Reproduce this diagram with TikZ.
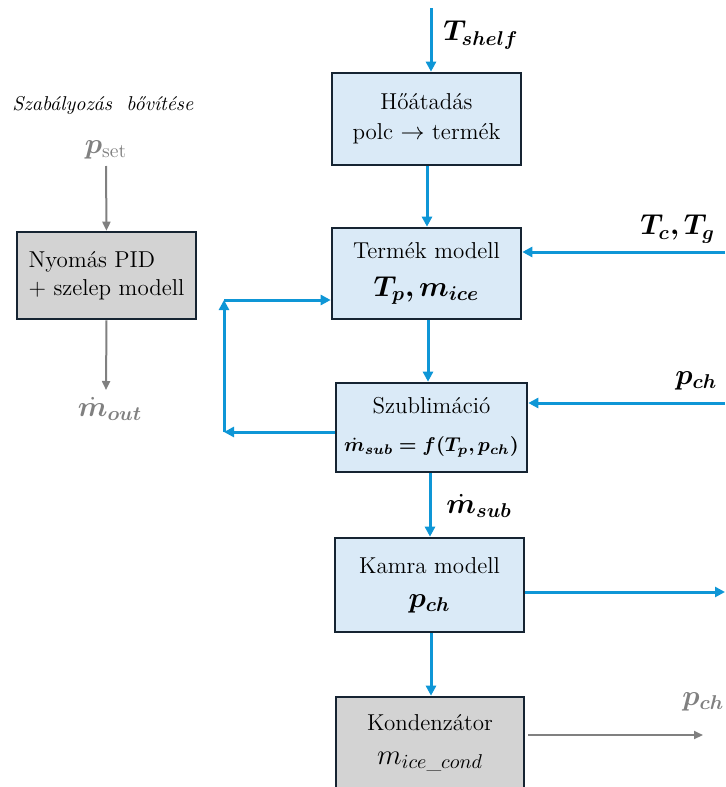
\documentclass[tikz,border=0pt]{standalone}
\usepackage{amsmath,bm}
\usepackage{fontspec}
\usetikzlibrary{arrows.meta}
\definecolor{flowblue}{RGB}{14,150,214}
\definecolor{boxblue}{RGB}{218,234,247}
\definecolor{boxgray}{RGB}{211,211,211}
\definecolor{boxedge}{RGB}{22,36,50}
\definecolor{sidegray}{RGB}{128,128,128}
\newcommand{\mathsz}{\fontsize{14}{16}\selectfont}
\newcommand{\txtsz}{\fontsize{11.5}{14}\selectfont}
\begin{document}
\begin{tikzpicture}[x=0.5pt,y=-0.5pt,
  blk/.style={draw=boxedge, line width=1.3pt, fill=boxblue, minimum width=94.5pt,
    minimum height=46pt, inner sep=0pt, align=center, font=\txtsz},
  gblk/.style={blk, fill=boxgray},
  flow/.style={draw=flowblue, line width=1.5pt, -{Triangle[length=5pt,width=5pt]}},
  gflow/.style={draw=sidegray, line width=1pt, -{Triangle[length=4.5pt,width=4pt]}},
  lbl/.style={inner sep=0pt, font=\mathsz}]
\useasboundingbox (0,0) rectangle (725,787);

% blocks
\node[blk, minimum height=46pt] (hoa) at (426.5,119) {Hőátadás\\[1pt]polc $\rightarrow$ termék};
\node[blk, minimum height=45.5pt] (termek) at (426.5,273.5) {Termék modell\\[5pt]{\mathsz$\bm{T_p, m_{ice}}$}};
\node[blk, minimum width=95.5pt, minimum height=44.5pt] (szub) at (431.5,427.5) {Szublimáció\\[5pt]{\fontsize{10}{12}\selectfont$\bm{\dot{m}_{sub} = f(T_p, p_{ch})}$}};
\node[blk, minimum height=47pt] (kamra) at (429.5,585) {Kamra modell\\[3pt]{\mathsz$\bm{p_{ch}}$}};
\node[gblk, minimum width=94pt, minimum height=46pt] (kond) at (430,743) {Kondenzátor\\[3pt]{\mathsz$m_{ice\_cond}$}};
\node[gblk, minimum width=89.5pt, minimum height=43.5pt] (pid) at (106.5,275.5) {\begin{tabular}{@{}l@{}}Nyomás PID\\+ szelep modell\end{tabular}};

% labels
\node[lbl, anchor=west] (tshelf) at (443,35) {$\bm{T_{shelf}}$};
\node[lbl, anchor=west] (tctg) at (640,229) {$\bm{T_c, T_g}$};
\node[lbl, anchor=west] (pch1) at (675,381) {$\bm{p_{ch}}$};
\node[lbl, anchor=west] (msub) at (446,506) {$\bm{\dot{m}_{sub}}$};
\node[lbl, anchor=west, text=sidegray] (pch2) at (682,702) {$\bm{p_{ch}}$};
\node[inner sep=0pt, anchor=west, font=\fontsize{10}{12}\selectfont\itshape] (title) at (12,105) {Szabályozás\ \ bővítése};
\node[lbl, text=sidegray] (pset) at (106,150) {$\bm{p}_{\mathrm{set}}$};
\node[lbl, text=sidegray] (mout) at (110,409) {$\bm{\dot{m}_{out}}$};

% coordinates
\coordinate (top) at (431,8);
\coordinate (tin) at (725,252);
\coordinate (pin) at (725,403);
\coordinate (kout) at (725,592);
\coordinate (c1) at (224,432);
\coordinate (c2) at (224,300);
\coordinate (gstart) at (528,735);
\coordinate (gend) at (703,735);
\coordinate (pidin) at (106,166);
\coordinate (pidout) at (106,390);

% blue flows
\draw[flow] (top) -- (top |- hoa.north);
\draw[flow] ([xshift=0.25pt]hoa.south) -- ([xshift=0.25pt]hoa.south |- termek.north);
\draw[flow] (tin) -- (tin -| termek.east);
\draw[flow] ([xshift=0.75pt]termek.south) -- ([xshift=0.75pt]termek.south |- szub.north);
\draw[flow] (pin) -- (pin -| szub.east);
\draw[flow] ([xshift=-0.75pt]szub.south) -- ([xshift=-0.75pt]szub.south |- kamra.north);
\draw[flow] (kout -| kamra.east) -- (kout);
\draw[flow] ([xshift=0.75pt]kamra.south) -- ([xshift=0.75pt]kamra.south |- kond.north);
\draw[flow] (c1 -| szub.west) -- (c1);
\draw[flow] (c1) -- (c2);
\draw[flow] (c2) -- (c2 -| termek.west);

% gray flows
\draw[gflow] (gstart) -- (gend);
\draw[gflow] (pidin) -- (pid.north);
\draw[gflow] (pid.south) -- (pidout);
\end{tikzpicture}
\end{document}
